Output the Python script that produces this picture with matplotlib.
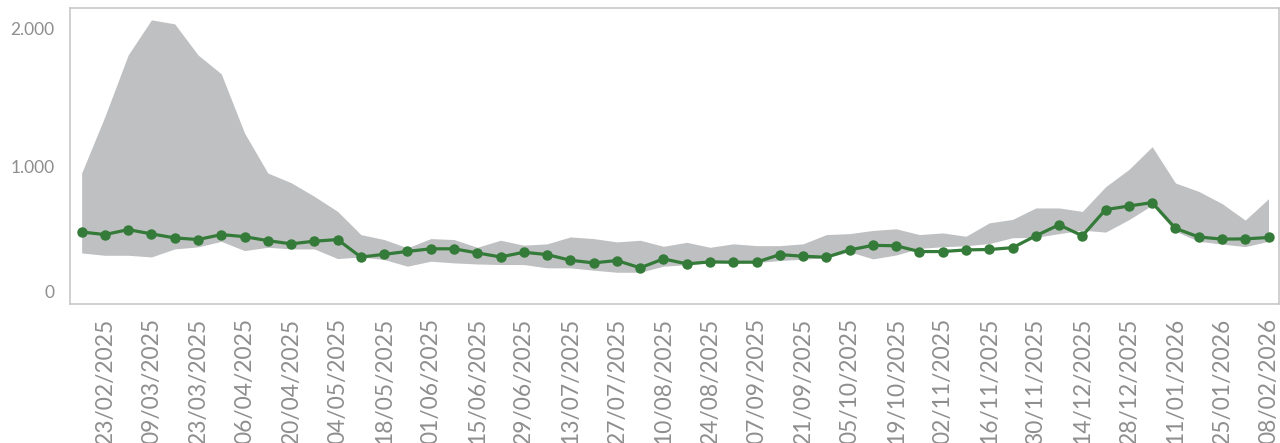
import numpy as np
import matplotlib
matplotlib.use('Agg')
import matplotlib.pyplot as plt
from matplotlib.ticker import FuncFormatter
from matplotlib.transforms import ScaledTranslation

# weekly values, first week 16/02/2025, last week 08/02/2026
values = [522, 503, 539, 508, 479, 467, 503, 488, 459, 436,
          455, 467, 340, 360, 381, 400, 400, 370, 341, 375,
          358, 317, 298, 315, 262, 327, 291, 305, 303, 303,
          358, 346, 339, 392, 425, 422, 380, 380, 392, 395,
          408, 494, 574, 494, 684, 710, 735, 548, 486, 470,
          472, 482]
upper = [949, 1359, 1805, 2059, 2030, 1805, 1668, 1239, 949, 879,
         780, 671, 503, 467, 407, 474, 467, 411, 462, 426,
         436, 486, 474, 450, 462, 418, 447, 411, 436, 423,
         423, 436, 503, 510, 533, 545, 503, 515, 491, 588,
         613, 696, 696, 671, 850, 975, 1140, 877, 816, 728,
         608, 763]
lower = [370, 353, 353, 341, 399, 414, 454, 387, 411, 399,
         399, 329, 341, 322, 274, 310, 298, 290, 286, 286,
         262, 262, 245, 230, 230, 274, 285, 298, 298, 300,
         315, 325, 335, 378, 327, 355, 403, 415, 422, 438,
         480, 483, 510, 535, 521, 611, 716, 527, 454, 434,
         416, 454]
tick_labels = ['23/02/2025', '09/03/2025', '23/03/2025', '06/04/2025', '20/04/2025',
               '04/05/2025', '18/05/2025', '01/06/2025', '15/06/2025', '29/06/2025',
               '13/07/2025', '27/07/2025', '10/08/2025', '24/08/2025', '07/09/2025',
               '21/09/2025', '05/10/2025', '19/10/2025', '02/11/2025', '16/11/2025',
               '30/11/2025', '14/12/2025', '28/12/2025', '11/01/2026', '25/01/2026',
               '08/02/2026']

x = np.arange(len(values))
tick_pos = x[1::2]

plt.rcParams['font.family'] = ['Lato', 'DejaVu Sans']

fig = plt.figure(figsize=(12.8, 4.43), dpi=100)
ax = fig.add_axes([70 / 1280, 1 - 304 / 443, 1209 / 1280, 296 / 443])

ax.fill_between(x, lower, upper, color='#bfc0c2', linewidth=0)
ax.plot(x, values, color='#347a38', linewidth=2.3, marker='o', markersize=6.5)

ax.set_xlim(-0.5, 51.45)
ax.set_ylim(0, 2145)

ax.set_yticks([0, 1000, 2000])
ax.yaxis.set_major_formatter(FuncFormatter(lambda v, p: f'{int(v):,}'.replace(',', '.')))
ax.set_xticks(tick_pos)
ax.set_xticklabels(tick_labels, rotation=90)

ax.tick_params(axis='y', length=0, pad=11, labelsize=12.5, labelcolor='#8e8e8e')
ax.tick_params(axis='x', length=0, pad=10, labelsize=16.4, labelcolor='#8e8e8e')

for sp in ax.spines.values():
    sp.set_color('#c8c8c8')
    sp.set_linewidth(1.2)

# the zero label sits a bit above the bottom edge
zero_lbl = ax.get_yticklabels()[0]
zero_lbl.set_transform(zero_lbl.get_transform() + ScaledTranslation(0, 13 / 100, fig.dpi_scale_trans))

fig.savefig('out.png', dpi=100)
